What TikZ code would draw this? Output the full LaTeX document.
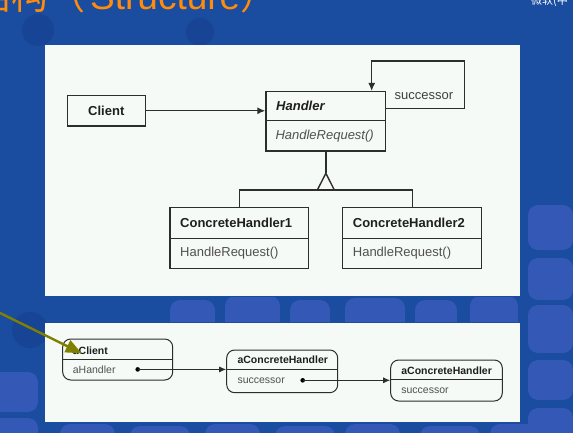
\documentclass[tikz,border=0pt]{standalone}
\usepackage{fontspec}
\setmainfont{Liberation Sans}
\newfontfamily\cjk{Noto Sans CJK SC}
\usetikzlibrary{arrows.meta}
\definecolor{bgblue}{RGB}{26,76,160}
\definecolor{darkblob}{RGB}{23,68,148}
\definecolor{lightblob}{RGB}{52,88,182}
\definecolor{panelbg}{RGB}{245,250,247}
\definecolor{titleorange}{RGB}{255,140,10}
\definecolor{ink}{RGB}{45,45,45}
\definecolor{txtgray}{RGB}{80,80,80}
\definecolor{olivearrow}{RGB}{128,128,0}
\tikzset{
  cls/.style={draw=ink, line width=1.4pt, rectangle, inner sep=0pt},
  obj/.style={draw=ink, line width=1pt, rectangle, rounded corners=8pt, inner sep=0pt},
  bigbold/.style={font=\fontsize{13}{15}\selectfont\bfseries, text=black!88, inner sep=0pt},
  bigreg/.style={font=\fontsize{13}{15}\selectfont, text=txtgray, inner sep=0pt},
  smbold/.style={font=\fontsize{10.5}{12}\selectfont\bfseries, text=black!88, inner sep=0pt},
  smreg/.style={font=\fontsize{10.5}{12}\selectfont, text=txtgray, inner sep=0pt},
  conn/.style={draw=ink, line width=1.4pt},
  arr/.style={conn, -{Latex[length=8pt,width=7pt]}},
  sarr/.style={draw=ink, line width=1pt, -{Latex[length=7pt,width=6pt]}},
  tile/.style={fill=lightblob, rounded corners=10pt},
}
\begin{document}
\begin{tikzpicture}[x=1pt,y=-1pt]
\useasboundingbox (0,0) rectangle (573,433);
\clip (0,0) rectangle (573,433);
% background
\fill[bgblue] (0,0) rectangle (573,433);
\fill[darkblob] (38,30) circle (16);
\fill[darkblob] (200,32) circle (14);
\fill[darkblob] (30,330) circle (18);
\begin{scope}
  \clip (160,297) rectangle (573,322) (0,360) rectangle (573,433) (520,200) rectangle (573,433);
  \foreach \i/\j/\w/\h in {
    170/300/45/40, 225/296/55/44, 290/300/40/40, 345/298/60/42, 415/300/42/40, 470/296/48/44,
    528/205/45/45, 528/258/45/42, 528/305/45/48, 528/360/45/40, 528/408/45/40,
    -10/372/48/40, -10/418/48/30, 60/424/55/30, 130/426/60/30, 205/424/55/30,
    275/426/60/30, 345/424/55/30, 420/426/60/30, 490/424/50/30}{
    \fill[tile] (\i,\j) rectangle ++(\w,\h);
  }
\end{scope}
% title
\node[anchor=base east, inner sep=0pt, text=titleorange, font=\cjk\fontsize{37}{40}\selectfont] (titlecjk) at (86,10) {结构（};
\node[anchor=base west, inner sep=0pt, text=titleorange, font=\fontsize{37}{40}\selectfont] (titlelat) at (90,10) {Structure};
\node[anchor=base west, inner sep=0pt, text=titleorange, font=\cjk\fontsize{37}{40}\selectfont] (titleparen) at (titlelat.base east) {）};
\node[anchor=base west, inner sep=0pt, text=white, font=\cjk\fontsize{11}{12}\selectfont] (ms) at (531,5) {微软(中};
% panels
\fill[panelbg] (45,45) rectangle (520,296);
\fill[panelbg] (45,322.5) rectangle (520,421.5);

% ---- top class diagram ----
\node[cls, minimum width=78pt, minimum height=30.3pt] (client) at (106.3,110.8) {};
\node[bigbold] (clientt) at (client.center) {Client};
\node[cls, minimum width=119.7pt, minimum height=59.3pt] (handler) at (325.85,121.35) {};
\draw[conn] (266,120.7) -- (385.7,120.7);
\node[bigbold, anchor=west, font=\fontsize{13}{15}\selectfont\bfseries\itshape] (handlert) at (276,106.2) {Handler};
\node[bigreg, anchor=west, font=\fontsize{13}{15}\selectfont\itshape] (handlerm) at (275.3,135.8) {HandleRequest()};
\node[cls, minimum width=138.7pt, minimum height=60.6pt] (ch1) at (239.35,238) {};
\draw[conn] (170,238.3) -- (308.7,238.3);
\node[bigbold, anchor=west] (ch1t) at (180,223) {ConcreteHandler1};
\node[bigreg, anchor=west] (ch1m) at (180,253.3) {HandleRequest()};
\node[cls, minimum width=139pt, minimum height=60.6pt] (ch2) at (412.2,238) {};
\draw[conn] (342.7,238.3) -- (481.7,238.3);
\node[bigbold, anchor=west] (ch2t) at (352.7,223) {ConcreteHandler2};
\node[bigreg, anchor=west] (ch2m) at (352.7,253.3) {HandleRequest()};
\node[bigreg, text=black!75] (succ) at (424,96) {successor};
% client -> handler
\draw[arr] (client.east) -- (client.east -| handler.west);
% successor loop
\coordinate (sA) at (handler.north east |- 0,108.3);
\coordinate (sB) at (371.7,61);
\draw[arr] (sA) -- (464.3,108.3) -- (464.3,61) -- (sB) -- (sB |- handler.north);
% inheritance
\coordinate (tip) at (handler.south |- 0,173.3);
\coordinate (bar) at (handler.south |- 0,190);
\draw[conn] (handler.south) -- (tip);
\draw[conn, line join=miter] (tip) -- ++(-8.5,16.7) -- ++(17,0) -- cycle;
\draw[conn] (ch1.north) -- (ch1.north |- bar) -- (ch2.north |- bar) -- (ch2.north);

% ---- lower object diagram ----
\node[obj, minimum width=110pt, minimum height=41pt] (oclient) at (117.7,359.5) {};
\draw[draw=ink, line width=1pt] (62.7,359.3) -- (172.7,359.3);
\node[smbold, anchor=west] (oclientt) at (72.7,350.3) {aClient};
\node[smreg, anchor=west] (oclientm) at (72.7,369.6) {aHandler};
\node[obj, minimum width=111pt, minimum height=42.7pt] (oh1) at (282.2,371.35) {};
\draw[draw=ink, line width=1pt] (226.7,369.3) -- (337.7,369.3);
\node[smbold, anchor=west] (oh1t) at (237.3,360.2) {aConcreteHandler};
\node[smreg, anchor=west] (oh1m) at (237.3,380.8) {successor};
\node[obj, minimum width=111.6pt, minimum height=41pt] (oh2) at (446.5,380.5) {};
\draw[draw=ink, line width=1pt] (390.7,379.7) -- (502.3,379.7);
\node[smbold, anchor=west] (oh2t) at (401.2,370.5) {aConcreteHandler};
\node[smreg, anchor=west] (oh2m) at (401.2,390.6) {successor};
\fill[black] (137.7,369.4) circle (2.3) coordinate (d1);
\fill[black] (302.7,380.3) circle (2.3) coordinate (d2);
\draw[sarr] (d1) -- (oh1.west |- d1);
\draw[sarr] (d2) -- (oh2.west |- d2);

% olive pointer
\coordinate (ostart) at (-4,311);
\draw[olivearrow, line width=2.4pt, -{Triangle[length=16pt,width=13pt]}] (ostart) -- (81.7,353.3);
\end{tikzpicture}
\end{document}
